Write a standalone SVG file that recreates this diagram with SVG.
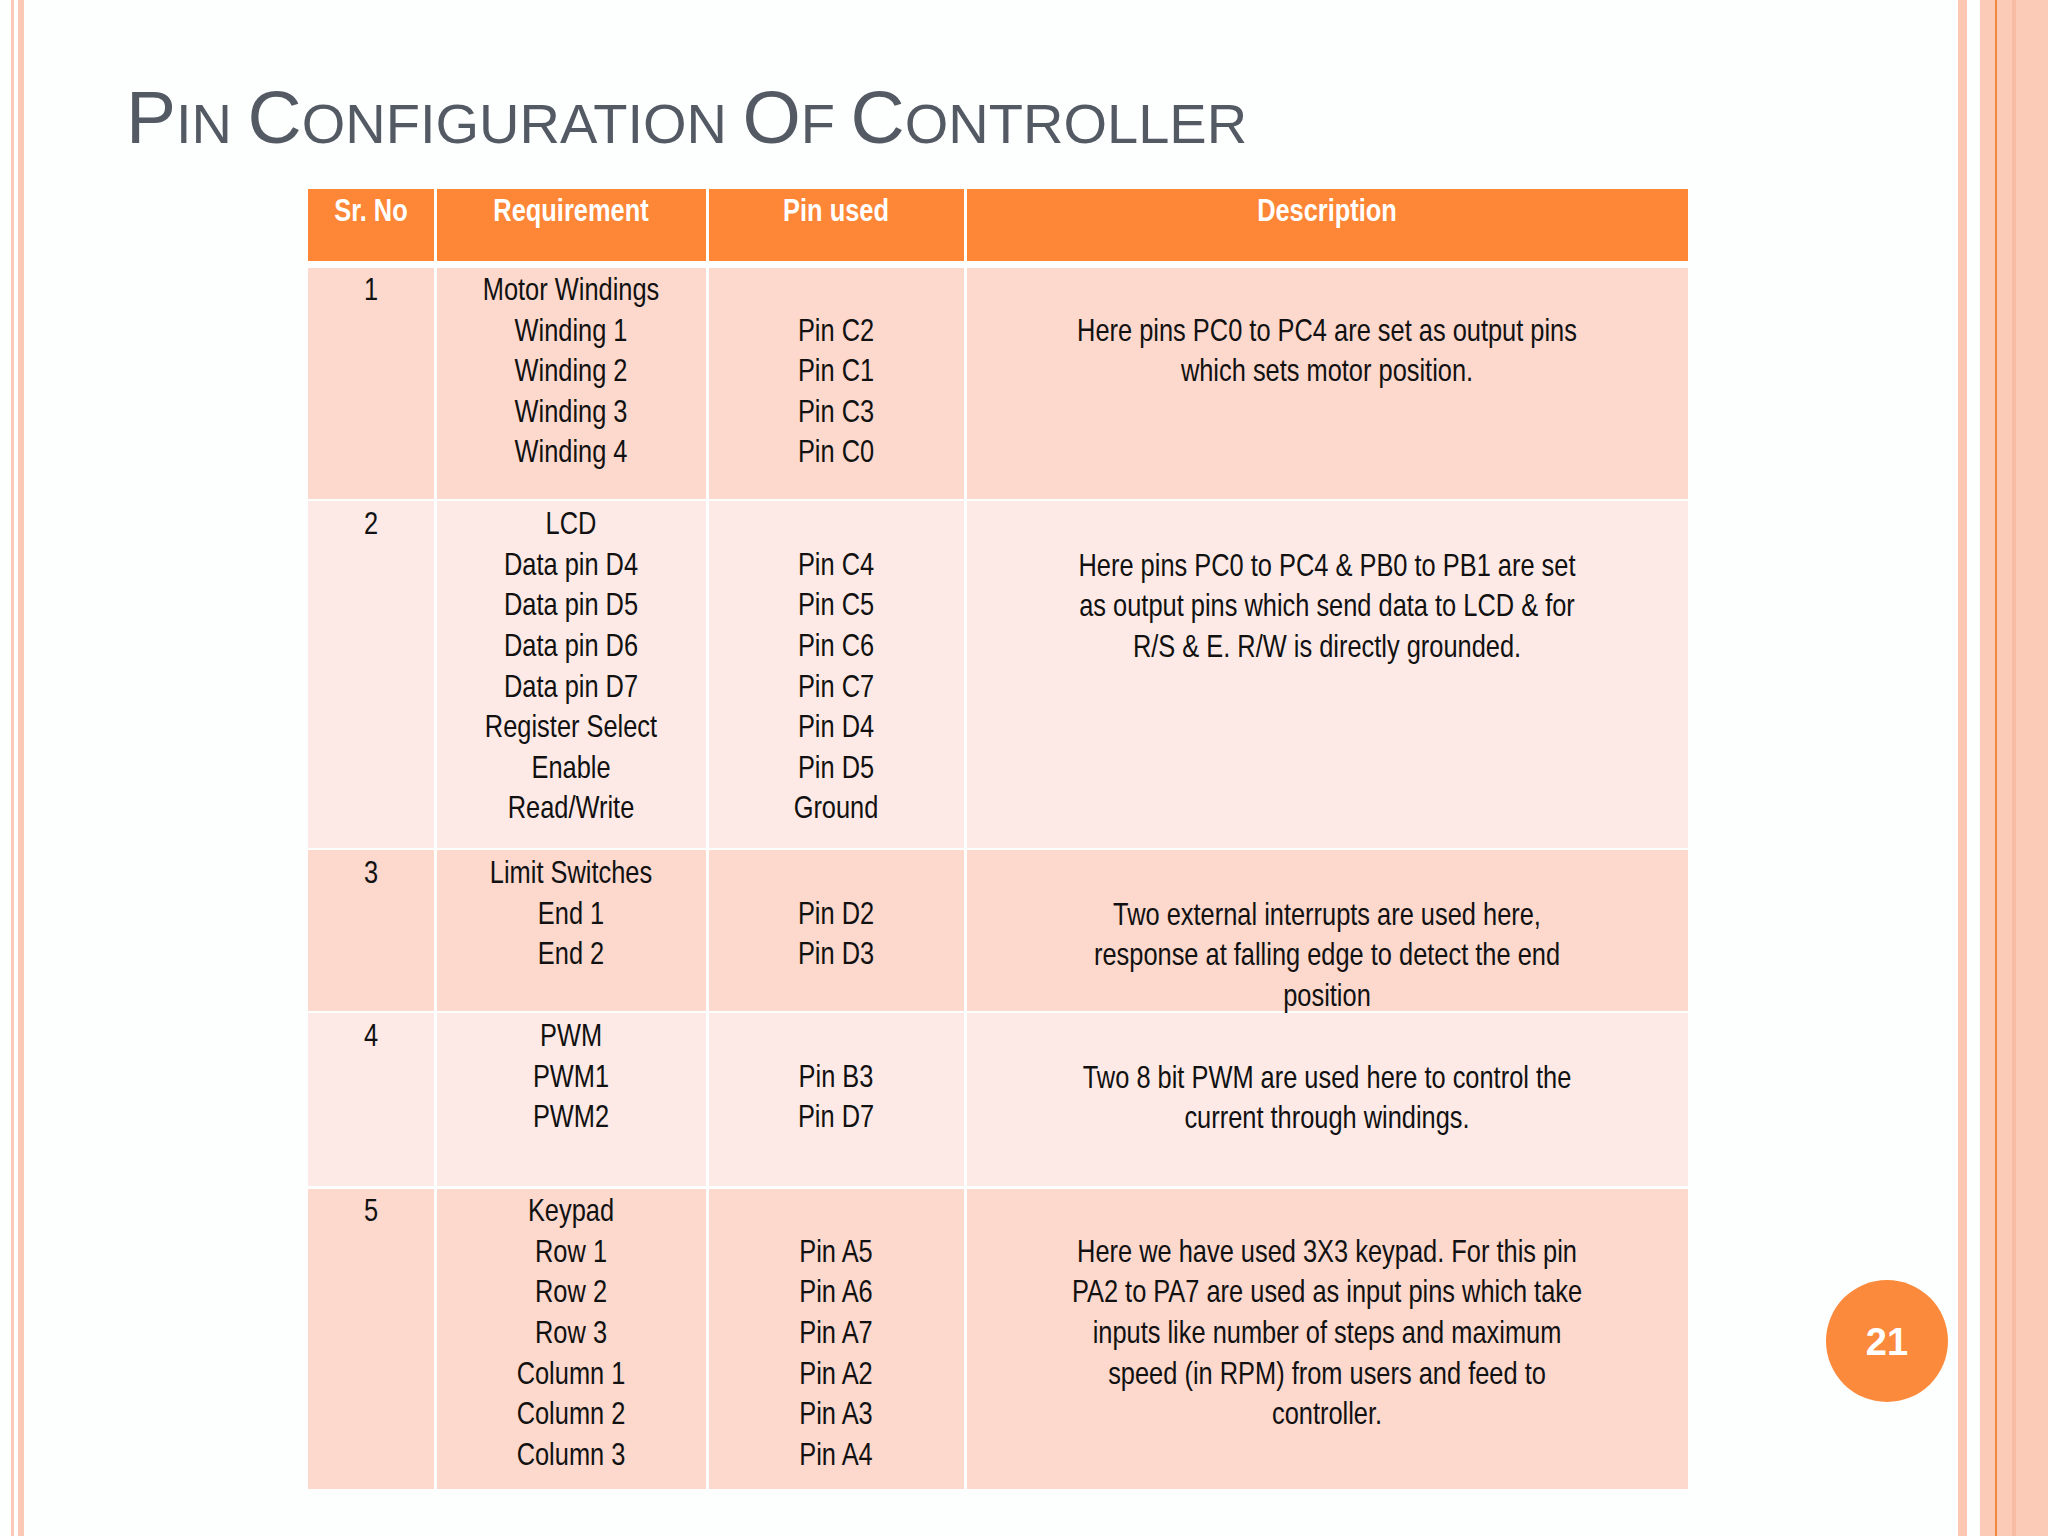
<svg xmlns="http://www.w3.org/2000/svg" width="2048" height="1536" viewBox="0 0 2048 1536">
<style>
.t{font-family:"Liberation Sans",Arial,sans-serif;font-size:31px;fill:#111;text-anchor:middle}
.h{font-family:"Liberation Sans",Arial,sans-serif;font-size:31px;font-weight:bold;fill:#fff;text-anchor:middle}
.odd{fill:#fcd8cd}.even{fill:#fdeae6}.hd{fill:#fd8737}
</style>
<rect width="2048" height="1536" fill="#fdfefe"/>
<g id="border">
<rect x="11" y="0" width="3" height="1536" fill="#fbc9b6"/>
<rect x="18" y="0" width="6" height="1536" fill="#fbc9b6"/>
<rect x="1958" y="0" width="9" height="1536" fill="#fcc8b4"/>
<rect x="1980" y="0" width="68" height="1536" fill="#fccbb8"/>
<rect x="1995" y="0" width="2" height="1536" fill="#f0883e"/>
<rect x="2012" y="0" width="4" height="1536" fill="#f8bba4"/>
</g>
<g id="title" font-family="'Liberation Sans',Arial,sans-serif" fill="#545a64">
<text x="126" y="143" font-size="56"><tspan font-size="75">P</tspan>IN <tspan font-size="75">C</tspan>ONFIGURATION <tspan font-size="75">O</tspan>F <tspan font-size="75">C</tspan>ONTROLLER</text>
</g>
<g id="table">
<rect class="hd" x="308" y="189" width="126" height="72"/>
<rect class="hd" x="437" y="189" width="269" height="72"/>
<rect class="hd" x="709" y="189" width="255" height="72"/>
<rect class="hd" x="967" y="189" width="721" height="72"/>
<g class="odd"><rect x="308" y="268" width="126" height="231"/><rect x="437" y="268" width="269" height="231"/><rect x="709" y="268" width="255" height="231"/><rect x="967" y="268" width="721" height="231"/></g>
<g class="even"><rect x="308" y="501" width="126" height="347"/><rect x="437" y="501" width="269" height="347"/><rect x="709" y="501" width="255" height="347"/><rect x="967" y="501" width="721" height="347"/></g>
<g class="odd"><rect x="308" y="850" width="126" height="161"/><rect x="437" y="850" width="269" height="161"/><rect x="709" y="850" width="255" height="161"/><rect x="967" y="850" width="721" height="161"/></g>
<g class="even"><rect x="308" y="1013" width="126" height="173"/><rect x="437" y="1013" width="269" height="173"/><rect x="709" y="1013" width="255" height="173"/><rect x="967" y="1013" width="721" height="173"/></g>
<g class="odd"><rect x="308" y="1189" width="126" height="300"/><rect x="437" y="1189" width="269" height="300"/><rect x="709" y="1189" width="255" height="300"/><rect x="967" y="1189" width="721" height="300"/></g>
</g>
<g id="col-sr" transform="translate(371,0) scale(0.82,1)">
<text class="h" x="0" y="221">Sr. No</text>
<text class="t" x="0" y="300">1</text>
<text class="t" x="0" y="534">2</text>
<text class="t" x="0" y="883">3</text>
<text class="t" x="0" y="1046">4</text>
<text class="t" x="0" y="1221">5</text>
</g>
<g id="col-req" transform="translate(571,0) scale(0.82,1)">
<text class="h" x="0" y="221">Requirement</text>
<text class="t" x="0" y="300">Motor Windings</text>
<text class="t" x="0" y="341">Winding 1</text>
<text class="t" x="0" y="381">Winding 2</text>
<text class="t" x="0" y="422">Winding 3</text>
<text class="t" x="0" y="462">Winding 4</text>
<text class="t" x="0" y="534">LCD</text>
<text class="t" x="0" y="575">Data pin D4</text>
<text class="t" x="0" y="615">Data pin D5</text>
<text class="t" x="0" y="656">Data pin D6</text>
<text class="t" x="0" y="697">Data pin D7</text>
<text class="t" x="0" y="737">Register Select</text>
<text class="t" x="0" y="778">Enable</text>
<text class="t" x="0" y="818">Read/Write</text>
<text class="t" x="0" y="883">Limit Switches</text>
<text class="t" x="0" y="924">End 1</text>
<text class="t" x="0" y="964">End 2</text>
<text class="t" x="0" y="1046">PWM</text>
<text class="t" x="0" y="1087">PWM1</text>
<text class="t" x="0" y="1127">PWM2</text>
<text class="t" x="0" y="1221">Keypad</text>
<text class="t" x="0" y="1262">Row 1</text>
<text class="t" x="0" y="1302">Row 2</text>
<text class="t" x="0" y="1343">Row 3</text>
<text class="t" x="0" y="1384">Column 1</text>
<text class="t" x="0" y="1424">Column 2</text>
<text class="t" x="0" y="1465">Column 3</text>
</g>
<g id="col-pin" transform="translate(836,0) scale(0.82,1)">
<text class="h" x="0" y="221">Pin used</text>
<text class="t" x="0" y="341">Pin C2</text>
<text class="t" x="0" y="381">Pin C1</text>
<text class="t" x="0" y="422">Pin C3</text>
<text class="t" x="0" y="462">Pin C0</text>
<text class="t" x="0" y="575">Pin C4</text>
<text class="t" x="0" y="615">Pin C5</text>
<text class="t" x="0" y="656">Pin C6</text>
<text class="t" x="0" y="697">Pin C7</text>
<text class="t" x="0" y="737">Pin D4</text>
<text class="t" x="0" y="778">Pin D5</text>
<text class="t" x="0" y="818">Ground</text>
<text class="t" x="0" y="924">Pin D2</text>
<text class="t" x="0" y="964">Pin D3</text>
<text class="t" x="0" y="1087">Pin B3</text>
<text class="t" x="0" y="1127">Pin D7</text>
<text class="t" x="0" y="1262">Pin A5</text>
<text class="t" x="0" y="1302">Pin A6</text>
<text class="t" x="0" y="1343">Pin A7</text>
<text class="t" x="0" y="1384">Pin A2</text>
<text class="t" x="0" y="1424">Pin A3</text>
<text class="t" x="0" y="1465">Pin A4</text>
</g>
<g id="col-desc" transform="translate(1327,0) scale(0.82,1)">
<text class="h" x="0" y="221">Description</text>
<text class="t" x="0" y="341">Here pins PC0 to PC4 are set as output pins</text>
<text class="t" x="0" y="381">which sets motor position.</text>
<text class="t" x="0" y="576">Here pins PC0 to PC4 &amp; PB0 to PB1 are set</text>
<text class="t" x="0" y="616">as output pins which send data to LCD &amp; for</text>
<text class="t" x="0" y="657">R/S &amp; E. R/W is directly grounded.</text>
<text class="t" x="0" y="925">Two external interrupts are used here,</text>
<text class="t" x="0" y="965">response at falling edge to detect the end</text>
<text class="t" x="0" y="1006">position</text>
<text class="t" x="0" y="1088">Two 8 bit PWM are used here to control the</text>
<text class="t" x="0" y="1128">current through windings.</text>
<text class="t" x="0" y="1262">Here we have used 3X3 keypad. For this pin</text>
<text class="t" x="0" y="1302">PA2 to PA7 are used as input pins which take</text>
<text class="t" x="0" y="1343">inputs like number of steps and maximum</text>
<text class="t" x="0" y="1384">speed (in RPM) from users and feed to</text>
<text class="t" x="0" y="1424">controller.</text>
</g>
<g id="page-number">
<circle cx="1887" cy="1341" r="61" fill="#fb8a3c"/>
<text x="1887" y="1355" font-family="'Liberation Sans',Arial,sans-serif" font-size="38" font-weight="bold" fill="#fff" text-anchor="middle">21</text>
</g>
</svg>
